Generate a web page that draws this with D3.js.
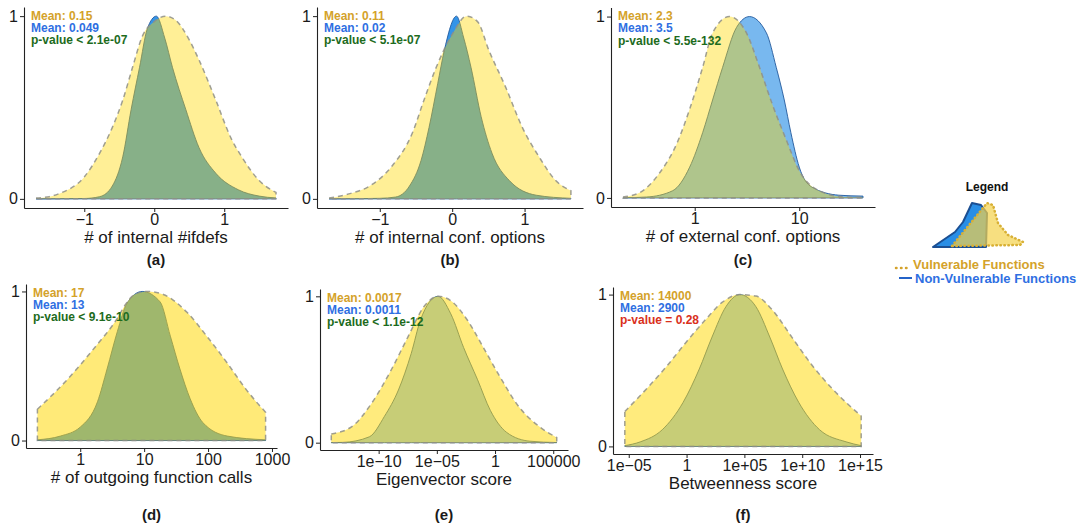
<!DOCTYPE html>
<html>
<head>
<meta charset="utf-8">
<script src="https://cdn.jsdelivr.net/npm/d3@7"></script>
<style>
  body { margin: 0; background: #fff; }
  svg { display: block; font-family: "Liberation Sans", Arial, Helvetica, sans-serif; }
  .axis path, .axis line { stroke: #222; }
  .axis text { fill: #1a1a1a; font-size: 16px; }
</style>
</head>
<body>
<svg id="chart" width="1082" height="525"></svg>
<script>
// ---- data ----
var panelIds = ['a', 'b', 'c', 'd', 'e', 'f'];
var axisTitles = ['# of internal #ifdefs', '# of internal conf. options', '# of external conf. options',
                  '# of outgoing function calls', 'Eigenvector score', 'Betweenness score'];
var logAxis = [false, false, true, true, true, true];

var vulnMeans = ['0.15', '0.11', '2.3', '17', '0.0017', '14000'];
var nonVulnMeans = ['0.049', '0.02', '3.5', '13', '0.0011', '2900'];
var pValueText = ['< 2.1e-07', '< 5.1e-07', '< 5.5e-132', '< 9.1e-10', '< 1.1e-12', '= 0.28'];
var pValues = [2.1e-07, 5.1e-07, 5.5e-132, 9.1e-10, 1.1e-12, 0.28];

var tickValues = [[-1, 0, 1], [-1, 0, 1], [1, 10], [1, 10, 100, 1000], [1e-10, 1e-05, 1, 1e5], [1e-05, 1, 1e5, 1e10, 1e15]];
var tickLabels = [['\u22121', '0', '1'], ['\u22121', '0', '1'], ['1', '10'], ['1', '10', '100', '1000'],
                  ['1e\u221210', '1e\u221205', '1', '100000'], ['1e\u221205', '1', '1e+05', '1e+10', '1e+15']];

// scaled densities; x on log panels is given as log10 of the value
var aVulnX = [-1.69, -1.5, -1.35, -1.0, -0.78, -0.6, -0.45, -0.31, -0.17, 0, 0.16, 0.3, 0.5, 0.64, 0.88, 1.1, 1.25, 1.5, 1.74];
var aVulnY = [0.005, 0.012, 0.03, 0.12, 0.25, 0.39, 0.54, 0.72, 0.89, 0.97, 1.0, 0.98, 0.87, 0.76, 0.54, 0.33, 0.23, 0.1, 0.035];
var aNonX = [-1.69, -1.0, -0.78, -0.6, -0.45, -0.33, -0.21, -0.1, 0.03, 0.15, 0.26, 0.45, 0.64, 0.88, 1.2, 1.5, 1.74];
var aNonY = [0, 0.002, 0.012, 0.07, 0.23, 0.49, 0.72, 0.93, 1.0, 0.88, 0.72, 0.49, 0.28, 0.14, 0.05, 0.015, 0.005];

var bVulnX = [-1.7, -1.4, -1.14, -0.83, -0.55, -0.39, -0.22, 0, 0.2, 0.35, 0.51, 0.74, 0.97, 1.2, 1.43, 1.64];
var bVulnY = [0.005, 0.03, 0.07, 0.18, 0.36, 0.54, 0.72, 0.9, 1.0, 0.97, 0.81, 0.61, 0.39, 0.23, 0.1, 0.045];
var bNonX = [-1.7, -1.0, -0.78, -0.59, -0.43, -0.32, -0.2, -0.11, 0.06, 0.16, 0.26, 0.4, 0.55, 0.79, 1.16, 1.64];
var bNonY = [0, 0.003, 0.01, 0.07, 0.21, 0.39, 0.63, 0.81, 1.0, 0.88, 0.72, 0.45, 0.25, 0.1, 0.02, 0.003];

var cVulnX = [-0.686, -0.524, -0.333, -0.171, -0.048, 0.076, 0.171, 0.333, 0.495, 0.62, 0.74, 0.876, 1.0, 1.19, 1.44, 1.61];
var cVulnY = [0.005, 0.03, 0.14, 0.30, 0.49, 0.72, 0.91, 1.0, 0.91, 0.72, 0.52, 0.32, 0.15, 0.04, 0.005, 0.003];
var cNonX = [-0.686, -0.46, -0.21, -0.048, 0.076, 0.171, 0.267, 0.4, 0.524, 0.686, 0.78, 0.857, 0.92, 1.0, 1.12, 1.38, 1.61];
var cNonY = [0.001, 0.005, 0.04, 0.17, 0.36, 0.54, 0.72, 0.94, 1.0, 0.91, 0.72, 0.54, 0.36, 0.17, 0.06, 0.015, 0.01];

var dVulnX = [-0.67, -0.2, 0.2, 0.58, 0.72, 0.85, 1.05, 1.3, 1.67, 1.98, 2.3, 2.6, 2.9];
var dVulnY = [0.21, 0.41, 0.61, 0.82, 0.92, 0.98, 1.0, 0.98, 0.86, 0.70, 0.52, 0.34, 0.19];
var dNonX = [-0.67, -0.31, 0, 0.27, 0.42, 0.58, 0.73, 0.97, 1.25, 1.41, 1.56, 1.72, 1.92, 2.3, 2.9];
var dNonY = [0.005, 0.03, 0.09, 0.26, 0.48, 0.73, 0.92, 1.0, 0.93, 0.70, 0.48, 0.28, 0.12, 0.03, 0.005];

var eVulnX = [-14.07, -12.3, -10.6, -8.9, -7.5, -6.1, -4.9, -3.8, -2.4, -1.0, 0.42, 2.1, 3.8, 5.3];
var eVulnY = [0.06, 0.11, 0.27, 0.5, 0.72, 0.93, 1.0, 0.97, 0.84, 0.65, 0.45, 0.24, 0.11, 0.035];
var eNonX = [-14.07, -13.1, -10.8, -9.5, -8.3, -7.2, -6.4, -4.9, -3.8, -2.7, -1.5, -0.4, 1.0, 3.0, 5.3];
var eNonY = [0.001, 0.002, 0.04, 0.18, 0.36, 0.61, 0.84, 1.0, 0.88, 0.65, 0.43, 0.22, 0.07, 0.01, 0.001];

var fVulnX = [-5.34, -3.45, -1.7, 0, 1.7, 3.1, 4.6, 6.0, 7.4, 9.1, 10.9, 12.6, 15.1];
var fVulnY = [0.23, 0.38, 0.53, 0.69, 0.84, 0.95, 1.0, 0.99, 0.9, 0.72, 0.53, 0.38, 0.2];
var fNonX = [-5.34, -4.0, -2.1, -0.3, 1.1, 2.2, 3.4, 4.6, 6.0, 7.2, 8.3, 9.7, 11.5, 13.8, 15.1];
var fNonY = [0.005, 0.03, 0.11, 0.29, 0.51, 0.72, 0.92, 1.0, 0.92, 0.72, 0.51, 0.29, 0.11, 0.03, 0.005];

var vulnX = [aVulnX, bVulnX, cVulnX, dVulnX, eVulnX, fVulnX];
var vulnY = [aVulnY, bVulnY, cVulnY, dVulnY, eVulnY, fVulnY];
var nonX = [aNonX, bNonX, cNonX, dNonX, eNonX, fNonX];
var nonY = [aNonY, bNonY, cNonY, dNonY, eNonY, fNonY];

// ---- layout / style ----
var frames = [
    { l: 24,  r: 288, t: 7,   b: 208, labelY: 265, yellowOp: 0.41, blueOp: 0.9 },
    { l: 317, r: 583, t: 7,   b: 208, labelY: 265, yellowOp: 0.41, blueOp: 0.9 },
    { l: 611, r: 875, t: 7.5, b: 207, labelY: 265, yellowOp: 0.41, blueOp: 0.6 },
    { l: 26,  r: 277, t: 284, b: 448, labelY: 520, yellowOp: 0.53, blueOp: 0.9 },
    { l: 320, r: 568, t: 289, b: 450, labelY: 520, yellowOp: 0.51, blueOp: 0.5 },
    { l: 613, r: 873, t: 287, b: 454, labelY: 520, yellowOp: 0.51, blueOp: 0.5 }
];
var GOLD = '#FFD700', BLUE = '#1E88E5';
var TXT_GOLD = '#D4A22A', TXT_BLUE = '#2F6FE2', TXT_GREEN = '#1D6B1D', TXT_RED = '#D9301C';

var svg = d3.select('#chart');

function toPoints(xs, ys, isLog) {
    return xs.map(function(x, i) { return { x: isLog ? Math.pow(10, x) : x, y: ys[i] }; });
}

function drawPanel(i) {
    var f = frames[i];
    var isLog = logAxis[i];
    var vuln = toPoints(vulnX[i], vulnY[i], isLog);
    var non = toPoints(nonX[i], nonY[i], isLog);

    //ggplot-style 5% expansion of the data range
    var ext = d3.extent(vuln.concat(non), function(d) { return isLog ? Math.log10(d.x) : d.x; });
    var pad = (ext[1] - ext[0]) * 0.05;
    var x;
    if (isLog) {
        x = d3.scaleLog().domain([Math.pow(10, ext[0] - pad), Math.pow(10, ext[1] + pad)]).range([f.l, f.r]);
    } else {
        x = d3.scaleLinear().domain([ext[0] - pad, ext[1] + pad]).range([f.l, f.r]);
    }
    var y = d3.scaleLinear().domain([-0.05, 1.05]).range([f.b, f.t]);

    var g = svg.append('g').attr('class', 'panel');

    var area = d3.area()
        .x(function(d) { return x(d.x); })
        .y0(y(0))
        .y1(function(d) { return y(d.y); })
        .curve(d3.curveMonotoneX);

    g.append('path')
        .attr('d', area(non) + 'Z')
        .attr('fill', BLUE)
        .attr('fill-opacity', f.blueOp)
        .attr('stroke', '#245a9c')
        .attr('stroke-width', 1)
        .attr('stroke-opacity', 0.9);

    g.append('path')
        .attr('d', area(vuln) + 'Z')
        .attr('fill', GOLD)
        .attr('fill-opacity', f.yellowOp)
        .attr('stroke', '#8f8f86')
        .attr('stroke-opacity', 0.85)
        .attr('stroke-width', 1.5)
        .attr('stroke-dasharray', '5,4');

    var xAxis = d3.axisBottom(x)
        .tickValues(tickValues[i])
        .tickFormat(function(d, k) { return tickLabels[i][k]; })
        .tickSizeInner(4).tickSizeOuter(0).tickPadding(2);
    g.append('g')
        .attr('class', 'axis')
        .attr('transform', 'translate(0,' + f.b + ')')
        .call(xAxis);

    var yAxis = d3.axisLeft(y)
        .tickValues([0, 1])
        .tickFormat(d3.format('d'))
        .tickSizeInner(4).tickSizeOuter(0).tickPadding(2);
    g.append('g')
        .attr('class', 'axis')
        .attr('transform', 'translate(' + f.l + ',0)')
        .call(yAxis);

    g.selectAll('.axis path').attr('stroke-width', 1.1);

    var cx = (f.l + f.r) / 2;
    g.append('text')
        .attr('x', cx).attr('y', f.b + 35)
        .attr('text-anchor', 'middle')
        .style('font-size', '17px').style('fill', '#1a1a1a')
        .text(axisTitles[i]);

    g.append('text')
        .attr('x', cx).attr('y', f.labelY)
        .attr('text-anchor', 'middle')
        .style('font-size', '15px').style('font-weight', 'bold').style('fill', '#1a1a1a')
        .text('(' + panelIds[i] + ')');

    var notes = [
        { t: 'Mean: ' + vulnMeans[i], c: TXT_GOLD },
        { t: 'Mean: ' + nonVulnMeans[i], c: TXT_BLUE },
        { t: 'p-value ' + pValueText[i], c: pValues[i] < 0.05 ? TXT_GREEN : TXT_RED }
    ];
    g.selectAll('.note')
        .data(notes)
        .enter().append('text')
        .attr('class', 'note')
        .attr('x', f.l + 7)
        .attr('y', function(d, k) { return f.t + 12.5 + k * 12.3; })
        .style('font-size', '12px').style('font-weight', 'bold')
        .style('fill', function(d) { return d.c; })
        .text(function(d) { return d.t; });
}

function drawLegend() {
    var g = svg.append('g').attr('class', 'legend');
    g.append('text')
        .attr('x', 987).attr('y', 191)
        .attr('text-anchor', 'middle')
        .style('font-size', '12px').style('font-weight', 'bold').style('fill', '#111')
        .text('Legend');

    //little hand-drawn density glyphs
    g.append('path')
        .attr('d', 'M933,247 L955,232 L963,222 L972,203 L981,205 L987,213 L986,247 Z')
        .attr('fill', BLUE).attr('fill-opacity', 0.95)
        .attr('stroke', '#1b4f93').attr('stroke-width', 2).attr('stroke-linejoin', 'round');
    g.append('path')
        .attr('d', 'M952,246 L987,203 L993,205 L998,223 L1008,235 L1023,242 L1020,245 Z')
        .attr('fill', '#F3D24A').attr('fill-opacity', 0.7)
        .attr('stroke', '#D8B035').attr('stroke-width', 2.5)
        .attr('stroke-linecap', 'round').attr('stroke-dasharray', '0.5,3.5');

    g.append('line')
        .attr('x1', 896).attr('x2', 909).attr('y1', 268).attr('y2', 268)
        .attr('stroke', '#D4A22A').attr('stroke-width', 2.5)
        .attr('stroke-linecap', 'round').attr('stroke-dasharray', '0.5,4.5');
    g.append('text')
        .attr('x', 913).attr('y', 269)
        .style('font-size', '13px').style('font-weight', 'bold').style('fill', TXT_GOLD)
        .text('Vulnerable Functions');

    g.append('line')
        .attr('x1', 899).attr('x2', 912).attr('y1', 278).attr('y2', 278)
        .attr('stroke', '#2463c8').attr('stroke-width', 2);
    g.append('text')
        .attr('x', 915).attr('y', 283)
        .style('font-size', '13px').style('font-weight', 'bold').style('fill', TXT_BLUE)
        .text('Non-Vulnerable Functions');
}

panelIds.forEach(function(id, i) { drawPanel(i); });
drawLegend();
</script>
</body>
</html>
